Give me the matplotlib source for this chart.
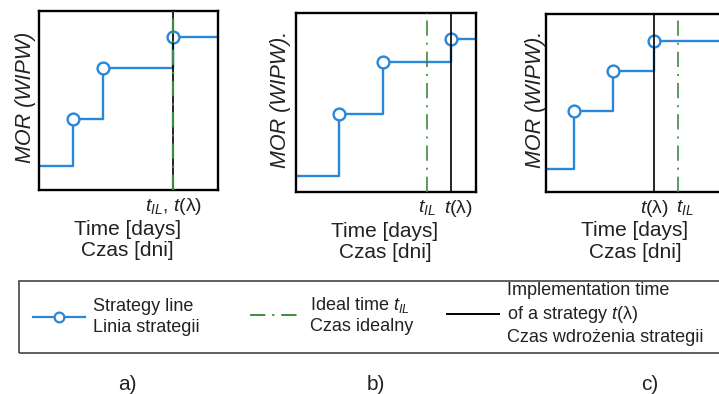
import numpy as np
import matplotlib
matplotlib.use("Agg")
import matplotlib.pyplot as plt
from matplotlib.patches import Rectangle
from matplotlib.lines import Line2D
from matplotlib.transforms import ScaledTranslation

plt.rcParams['font.family'] = ['Liberation Sans', 'DejaVu Sans']
plt.rcParams['mathtext.fontset'] = 'custom'
plt.rcParams['mathtext.rm'] = 'Liberation Sans'
plt.rcParams['mathtext.it'] = 'Liberation Sans:italic'
plt.rcParams['lines.scale_dashes'] = False

# step times and MOR levels (time axis 0..10, MOR axis 0..10)
a_steps = [0, 1.9, 3.6, 7.5]
a_levels = [1.34, 3.97, 6.82, 8.55]
a_t_il, a_t_lam = 7.5, 7.5

b_steps = [0, 2.4, 4.83, 8.61]
b_levels = [0.89, 4.36, 7.26, 8.55]
b_t_il, b_t_lam = 7.28, 8.61

c_steps = [0, 1.56, 3.72, 6.0]
c_levels = [1.29, 4.55, 6.8, 8.48]
c_t_il, c_t_lam = 7.33, 6.0

BLUE = '#2a86d6'
GREEN = '#3d8b3d'
TXT = '#222222'
DASHDOT = (0, (11, 5, 1.5, 5))
W, H = 719, 394

fig = plt.figure(figsize=(W / 100, H / 100), dpi=100)

panels = [
    ([39, 11, 179, 179], a_steps, a_levels, a_t_il, a_t_lam, "MOR (WIPW)", -0.018),
    ([296, 13, 180, 179], b_steps, b_levels, b_t_il, b_t_lam, "MOR (WIPW).", -0.03),
    ([546, 14, 180, 178], c_steps, c_levels, c_t_il, c_t_lam, "MOR (WIPW).", -0.002),
]

for box, steps, levels, t_il, t_lam, ylab, lx in panels:
    l, t, w, h = box
    ax = fig.add_axes([l / W, 1 - (t + h) / H, w / W, h / H])
    xs = np.append(steps, 10)
    ys = np.append(levels, levels[-1])
    ax.step(xs, ys, where='post', color=BLUE, lw=1.7, zorder=2)
    ax.plot(steps[1:], levels[1:], 'o', mfc='white', mec=BLUE, mew=1.7, ms=8.5, zorder=3)
    ax.axvline(t_lam, color='black', lw=1.2, zorder=4)
    ax.axvline(t_il, color=GREEN, lw=1.6 if t_il == t_lam else 1.2,
               linestyle=DASHDOT, zorder=5)
    ax.set_xlim(0, 10)
    ax.set_ylim(0, 10)
    if t_il == t_lam:
        ax.set_xticks([t_il], [r"$t_{IL}$, $t$(λ)"])
    else:
        ax.set_xticks([t_il, t_lam], [r"$t_{IL}$", r"$t$(λ)"])
    ax.set_yticks([])
    ax.tick_params(axis='x', length=0, pad=4, labelsize=14, labelcolor=TXT)
    if t_il != t_lam:
        # the right-hand label sits a little to the right of its line
        right = ax.get_xticklabels()[int(np.argmax([t_il, t_lam]))]
        right.set_transform(right.get_transform() + ScaledTranslation(7 / 100, 0, fig.dpi_scale_trans))
    for s in ax.spines.values():
        s.set_linewidth(1.7)
    ax.set_ylabel(ylab, fontsize=15.5, style='italic', color=TXT)
    ax.yaxis.set_label_coords(lx, 0.52)
    ax.set_xlabel("Time [days]\nCzas [dni]", fontsize=15, color=TXT, linespacing=1.15)
    ax.xaxis.set_label_coords((w / 2 - 1) / w, -0.165)

handles = [
    Line2D([], [], color=BLUE, lw=1.6, marker='o', mfc='white', mec=BLUE, mew=1.6, ms=7),
    Line2D([], [], color=GREEN, lw=1.4, linestyle=DASHDOT),
    Line2D([], [], color='black', lw=1.4),
]
labels = [
    "Strategy line\nLinia strategii",
    "Ideal time $t_{IL}$\nCzas idealny",
    "Implementation time\nof a strategy $t$(λ)\nCzas wdrożenia strategii",
]
anchors = [(33, 317), (250, 315), (447, 314)]
for hnd, lab, (px, py) in zip(handles, labels, anchors):
    leg = fig.legend([hnd], [lab], loc='center left', bbox_to_anchor=(px / W, 1 - py / H),
                     frameon=False, borderpad=0, borderaxespad=0, handlelength=2.9,
                     handletextpad=0.45, fontsize=13, labelcolor=TXT, numpoints=1)
    for txt in leg.get_texts():
        txt.set_linespacing(1.3)

fig.add_artist(Rectangle((19 / W, 1 - 353 / H), 720 / W, 72 / H, transform=fig.transFigure,
                         fill=False, edgecolor='#444444', lw=1.2))

for lab, px in zip(["a)", "b)", "c)"], [127, 376, 650]):
    fig.text(px / W, 1 - 385 / H, lab, fontsize=15, color=TXT, ha='center', va='center')

fig.savefig("out.png", dpi=100)
